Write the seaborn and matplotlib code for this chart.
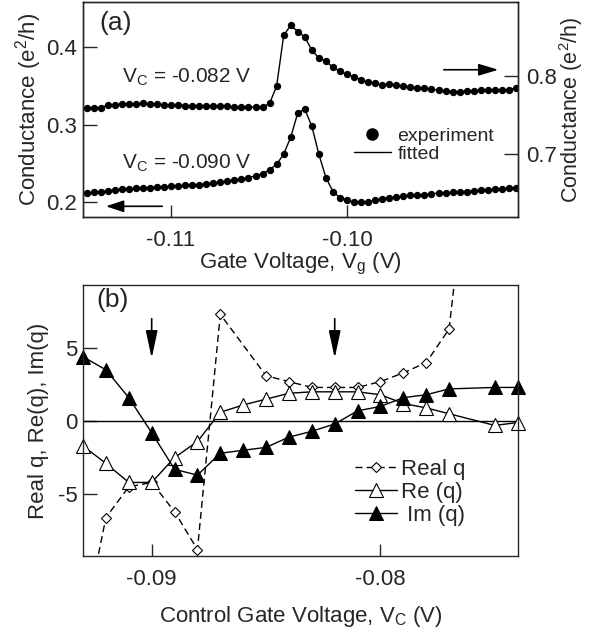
import pandas as pd
import seaborn as sns
import matplotlib.pyplot as plt
from matplotlib.lines import Line2D

sns.set_theme(style="ticks")
plt.rcParams['font.family'] = ['Liberation Sans', 'DejaVu Sans']
plt.rcParams['mathtext.default'] = 'regular'
plt.rcParams['axes.unicode_minus'] = False
plt.rcParams['axes.linewidth'] = 1.0

# ---- panel (a): conductance vs gate voltage (V)
vg = [-0.1148, -0.1144, -0.1140, -0.1136, -0.1132, -0.1128, -0.1124, -0.1120, -0.1116, -0.1112,
      -0.1108, -0.1104, -0.1100, -0.1096, -0.1092, -0.1088, -0.1084, -0.1080, -0.1076, -0.1072,
      -0.1068, -0.1064, -0.1060, -0.1056, -0.1052, -0.1048, -0.1044, -0.1040, -0.1036, -0.1032,
      -0.1028, -0.1024, -0.1020, -0.1016, -0.1012, -0.1008, -0.1004, -0.1000, -0.0996, -0.0992,
      -0.0988, -0.0984, -0.0980, -0.0976, -0.0972, -0.0968, -0.0964, -0.0960, -0.0956, -0.0952,
      -0.0948, -0.0944, -0.0940, -0.0936, -0.0932, -0.0928, -0.0924, -0.0920, -0.0916, -0.0912,
      -0.0908, -0.0904]

# Vc = -0.090 V, left axis
g_090 = [0.212, 0.213, 0.214, 0.215, 0.216, 0.217, 0.217, 0.218, 0.219, 0.219,
         0.220, 0.220, 0.221, 0.221, 0.222, 0.222, 0.223, 0.224, 0.225, 0.226,
         0.227, 0.229, 0.230, 0.232, 0.234, 0.237, 0.242, 0.249, 0.262, 0.284,
         0.315, 0.320, 0.298, 0.262, 0.232, 0.214, 0.206, 0.203, 0.200, 0.200,
         0.201, 0.203, 0.205, 0.206, 0.207, 0.208, 0.209, 0.210, 0.210, 0.211,
         0.212, 0.212, 0.213, 0.214, 0.214, 0.215, 0.216, 0.216, 0.217, 0.217,
         0.218, 0.219]

# Vc = -0.082 V, right axis
g_082 = [0.759, 0.759, 0.759, 0.763, 0.763, 0.764, 0.764, 0.764, 0.765, 0.764,
         0.764, 0.763, 0.763, 0.763, 0.762, 0.762, 0.762, 0.762, 0.761, 0.761,
         0.761, 0.760, 0.760, 0.760, 0.760, 0.760, 0.765, 0.787, 0.852, 0.865,
         0.857, 0.850, 0.833, 0.823, 0.819, 0.811, 0.806, 0.802, 0.799, 0.795,
         0.792, 0.791, 0.788, 0.790, 0.788, 0.787, 0.786, 0.785, 0.784, 0.783,
         0.782, 0.781, 0.780, 0.780, 0.781, 0.781, 0.782, 0.782, 0.782, 0.782,
         0.782, 0.785]

# ---- panel (b): q parameters vs control gate voltage (V)
vc = [-0.093, -0.092, -0.091, -0.090, -0.089, -0.088, -0.087, -0.086, -0.085, -0.084,
      -0.083, -0.082, -0.081, -0.080, -0.079, -0.078, -0.077, -0.075, -0.074]
re_q = [-1.7, -2.9, -4.2, -4.2, -2.5, -1.4, 0.6, 1.1, 1.5, 1.9,
        2.0, 2.0, 2.0, 1.8, 1.2, 0.9, 0.5, -0.3, -0.1]
im_q = [4.4, 3.5, 1.6, -0.8, -3.3, -3.7, -2.2, -2.0, -1.8, -1.1,
        -0.7, -0.2, 0.7, 1.0, 1.6, 1.8, 2.2, 2.3, 2.3]
vc_real = [-0.093, -0.092, -0.091, -0.090, -0.089, -0.088, -0.087, -0.085, -0.084,
           -0.083, -0.082, -0.081, -0.080, -0.079, -0.078, -0.077, -0.076]
real_q = [-14.3, -6.6, -4.5, -4.2, -6.2, -8.8, 7.3, 3.1, 2.7,
          2.3, 2.3, 2.3, 2.7, 3.3, 4.0, 6.3, 20.0]

df_a = pd.DataFrame({'vg': vg, 'g090': g_090, 'g082': g_082})

fig = plt.figure(figsize=(5.89, 6.35), dpi=100)
ax1 = fig.add_axes([0.141, 0.658, 0.738, 0.339])
ax2 = fig.add_axes([0.141, 0.124, 0.738, 0.427])
ax1r = ax1.twinx()

FS = 16

# panel (a)
sns.lineplot(data=df_a, x='vg', y='g090', ax=ax1, color='black', lw=1)
sns.scatterplot(data=df_a, x='vg', y='g090', ax=ax1, color='black', s=28, linewidth=0)
sns.lineplot(data=df_a, x='vg', y='g082', ax=ax1r, color='black', lw=1)
sns.scatterplot(data=df_a, x='vg', y='g082', ax=ax1r, color='black', s=28, linewidth=0)

ax1.set_xlim(-0.115, -0.0903)
ax1.set_ylim(0.181, 0.458)
ax1r.set_ylim(0.619, 0.895)
ax1.set_xticks([-0.11, -0.10])
ax1.set_xticklabels(['-0.11', '-0.10'])
ax1.set_yticks([0.2, 0.3, 0.4])
ax1r.set_yticks([0.7, 0.8])
ax1.tick_params(axis='y', direction='in', length=10, width=1, pad=4, labelsize=FS)
ax1.tick_params(axis='x', direction='in', length=9, width=1, pad=9, labelsize=FS)
ax1r.tick_params(axis='y', direction='in', length=10, width=1, pad=6, labelsize=FS)
ax1.set_xlabel('Gate Voltage, V$_g$ (V)', fontsize=FS, labelpad=0)
ax1.set_ylabel('Conductance (e$^2$/h)', fontsize=FS, labelpad=2)
ax1r.set_ylabel('Conductance (e$^2$/h)', fontsize=15.5, labelpad=0)

ax1.text(0.074, 0.90, '(a)', transform=ax1.transAxes, fontsize=19, ha='center', va='center')
ax1.text(-0.1128, 0.361, 'V$_C$ = -0.082 V', fontsize=15, ha='left', va='center')
ax1.text(-0.1128, 0.250, 'V$_C$ = -0.090 V', fontsize=15, ha='left', va='center')

ax1.annotate('', xy=(-0.1137, 0.195), xytext=(-0.1105, 0.195),
             arrowprops=dict(arrowstyle='-|>,head_length=0.9,head_width=0.3', color='black',
                             lw=1.2, shrinkA=0, shrinkB=0, mutation_scale=12))
ax1r.annotate('', xy=(-0.0914, 0.808), xytext=(-0.0945, 0.808),
              arrowprops=dict(arrowstyle='-|>,head_length=1.0,head_width=0.3', color='black',
                              lw=1.2, shrinkA=0, shrinkB=0, mutation_scale=12))

leg_a = [Line2D([], [], ls='none', marker='o', color='black', markersize=8),
         Line2D([], [], color='black', lw=1)]
ax1r.legend(leg_a, ['experiment', 'fitted'], loc='center left', bbox_to_anchor=(0.623, 0.335),
            frameon=False, fontsize=14, borderpad=0, borderaxespad=0, handlelength=1.9,
            handletextpad=0.35, labelspacing=0.05)

# panel (b)
ax2.axhline(0, color='black', lw=1)
sns.lineplot(x=vc_real, y=real_q, ax=ax2, color='black', lw=1, ls=(0, (5, 3)),
             marker='D', markersize=5.5, markerfacecolor='white', markeredgecolor='black',
             markeredgewidth=0.8, label='Real q')
sns.lineplot(x=vc, y=re_q, ax=ax2, color='black', lw=1, marker='^', markersize=10,
             markerfacecolor='white', markeredgecolor='black', markeredgewidth=0.8,
             label='Re (q)', clip_on=False)
sns.lineplot(x=vc, y=im_q, ax=ax2, color='black', lw=1, marker='^', markersize=10,
             markerfacecolor='black', markeredgecolor='black', label=' Im (q)', clip_on=False)

ax2.set_xlim(-0.093, -0.074)
ax2.set_ylim(-9.25, 9.3)
ax2.set_xticks([-0.09, -0.08])
ax2.set_xticklabels(['-0.09', '-0.08'])
ax2.set_yticks([-5, 0, 5])
ax2.set_yticklabels(['-5', '0', '5'])
ax2.tick_params(axis='y', direction='in', length=10, width=1, pad=4, labelsize=FS)
ax2.tick_params(axis='x', direction='in', length=9, width=1, pad=9, labelsize=FS)
ax2.set_xlabel('Control Gate Voltage, V$_C$ (V)', fontsize=FS, labelpad=10)
ax2.set_ylabel('Real q, Re(q), Im(q)', fontsize=FS, labelpad=6)
ax2.text(0.067, 0.945, '(b)', transform=ax2.transAxes, fontsize=19, ha='center', va='center')

for xa in [-0.090, -0.082]:
    ax2.annotate('', xy=(xa, 4.3), xytext=(xa, 7.0),
                 arrowprops=dict(arrowstyle='-|>,head_length=1.4,head_width=0.3', color='black',
                                 lw=1.2, shrinkA=0, shrinkB=0, mutation_scale=12))

ax2.legend(loc='center left', bbox_to_anchor=(0.625, 0.236), frameon=False, fontsize=16,
           borderpad=0, borderaxespad=0, handlelength=1.9, handletextpad=0.2, labelspacing=0.1)

fig.savefig('out.png', dpi=100)
